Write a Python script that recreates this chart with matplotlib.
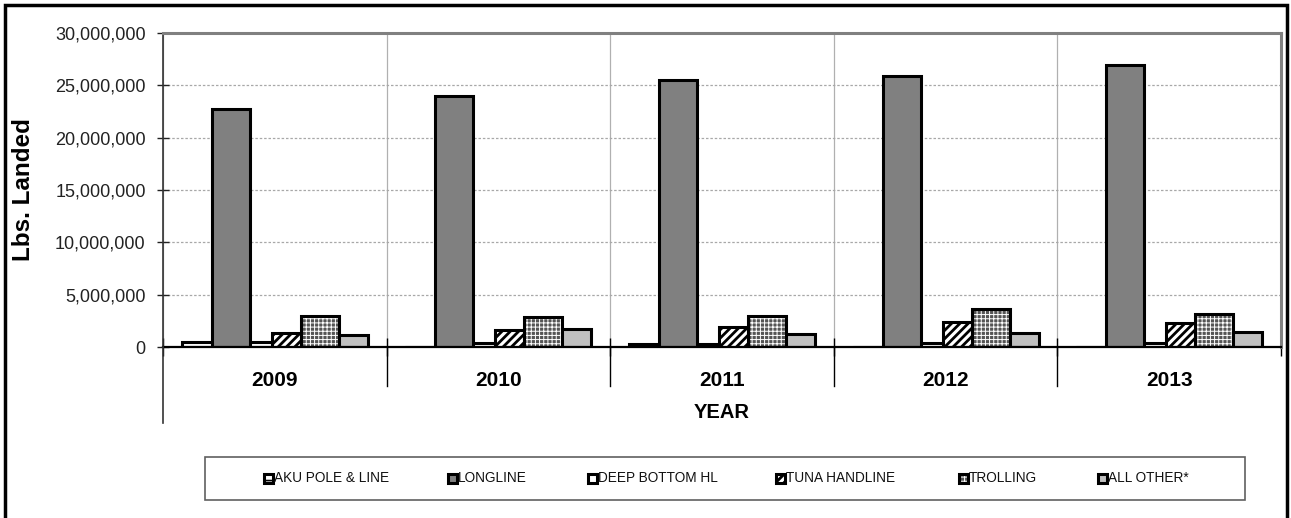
import matplotlib
matplotlib.use("Agg")
import matplotlib.pyplot as plt
from matplotlib.patches import Rectangle
from matplotlib.lines import Line2D
from matplotlib.ticker import FuncFormatter, MultipleLocator
import numpy as np

plt.rcParams['font.family'] = ['Liberation Sans', 'DejaVu Sans']

# ---------------- data ----------------
years = ['2009', '2010', '2011', '2012', '2013']
series_names = ['AKU POLE & LINE', 'LONGLINE', 'DEEP BOTTOM HL',
                'TUNA HANDLINE', 'TROLLING', 'ALL OTHER*']
aku_pole_line = [500000, 0, 300000, 0, 0]
longline = [22700000, 24000000, 25500000, 25900000, 26950000]
deep_bottom_hl = [500000, 400000, 250000, 400000, 400000]
tuna_handline = [1350000, 1650000, 1950000, 2400000, 2300000]
trolling = [3000000, 2850000, 3000000, 3650000, 3150000]
all_other = [1150000, 1700000, 1200000, 1350000, 1400000]
values = [aku_pole_line, longline, deep_bottom_hl, tuna_handline, trolling, all_other]
y_label = 'Lbs. Landed'
x_label = 'YEAR'

# ---------------- styles ----------------
W, H = 1291, 518
fig = plt.figure(figsize=(W / 100, H / 100), dpi=100)

def fx(x):
    return x / W

def fy(y):
    return 1 - y / H

# pixel geometry of plot area
L, R, T, B = 163, 1281, 33, 347
cat_px = (R - L) / len(years)
ax = fig.add_axes([fx(L), fy(B), fx(R - L), (B - T) / H])

# per-series (left, right) edges in px relative to category centre
edges_px = [(-93, -63), (-63, -25), (-33, -3), (-3, 26), (26, 64), (57, 93)]
faces = ['white', '#808080', 'white', 'white', '#555555', '#c0c0c0']
hatches = ['---', None, None, '////', '++++', None]
hatch_cols = ['black', None, None, 'black', 'white', None]
hatch_lws = [1.2, 1, 1, 2.0, 0.7, 1]
zorders = [2, 4, 3, 3, 4, 3]

x = np.arange(len(years))
for vals, (e0, e1), fc, ht, hc, hl, z in zip(values, edges_px, faces, hatches,
                                             hatch_cols, hatch_lws, zorders):
    off = (e0 + e1) / 2 / cat_px
    wid = (e1 - e0) / cat_px
    ax.bar(x + off, vals, width=wid, color=fc, edgecolor='none', linewidth=0, zorder=z)
    if ht:
        plt.rcParams['hatch.linewidth'] = hl
        ax.bar(x + off, vals, width=wid, color='none', edgecolor=hc, hatch=ht,
               linewidth=0, zorder=z)
    ax.bar(x + off, vals, width=wid, fill=False, edgecolor='black', linewidth=2.2, zorder=z)

ax.set_xlim(-0.5, len(years) - 0.5)
ax.set_ylim(0, 30000000)
ax.yaxis.set_major_locator(MultipleLocator(5000000))
ax.yaxis.set_major_formatter(FuncFormatter(lambda v, p: f'{int(v):,}'))
ax.tick_params(axis='y', direction='inout', length=9, width=1, labelsize=13, pad=8,
               colors='#222222', labelcolor='#222222')
ax.set_xticks(np.arange(len(years) + 1) - 0.5)
ax.set_xticklabels([])
ax.tick_params(axis='x', direction='inout', length=13, width=1, colors='black')

ax.grid(axis='y', color='#a8a8a8', linestyle=(0, (2, 1.5)), linewidth=0.9, zorder=0)
ax.grid(axis='x', color='#b0b0b0', linestyle='-', linewidth=0.9, zorder=0)
ax.set_axisbelow(True)

for s in ['top', 'right']:
    ax.spines[s].set_color('#808080')
    ax.spines[s].set_linewidth(2.2)
ax.spines['left'].set_color('#333333')
ax.spines['left'].set_linewidth(1.2)
ax.spines['bottom'].set_color('black')
ax.spines['bottom'].set_linewidth(1.6)
ax.spines['bottom'].set_zorder(6)

ax.set_ylabel(y_label, fontsize=17.5, fontweight='bold')
ax.yaxis.set_label_coords((35 - L) / (R - L), 0.5)

# category axis below plot
for i, yr in enumerate(years):
    cx = L + (i + 0.5) * cat_px
    fig.text(fx(cx), fy(380), yr, ha='center', va='center', fontsize=15, fontweight='bold')
for i in range(1, len(years)):
    bx = L + i * cat_px
    fig.add_artist(Line2D([fx(bx), fx(bx)], [fy(B), fy(386)], color='black', linewidth=1))
fig.add_artist(Line2D([fx(L), fx(L)], [fy(B), fy(423)], color='#333333', linewidth=1.2))
fig.text(fx((L + R) / 2), fy(412), x_label, ha='center', va='center', fontsize=14.5, fontweight='bold')

# legend
fig.add_artist(Rectangle((fx(205), fy(500)), fx(1245 - 205), (500 - 457) / H,
                         facecolor='white', edgecolor='#606060', linewidth=1.2))
marker_x = [268, 452, 592, 780, 963, 1102]
ly = 478
ms = 9
for name, mx, fc, ht, hc, hl in zip(series_names, marker_x, faces, hatches, hatch_cols, hatch_lws):
    fig.add_artist(Rectangle((fx(mx - ms / 2), fy(ly + ms / 2)), ms / W, ms / H,
                             facecolor=fc, edgecolor='none'))
    if ht:
        plt.rcParams['hatch.linewidth'] = hl
        fig.add_artist(Rectangle((fx(mx - ms / 2), fy(ly + ms / 2)), ms / W, ms / H,
                                 facecolor='none', edgecolor=hc, hatch=ht, linewidth=0))
    fig.add_artist(Rectangle((fx(mx - ms / 2), fy(ly + ms / 2)), ms / W, ms / H,
                             fill=False, edgecolor='black', linewidth=2.2))
    fig.text(fx(mx + 6), fy(ly), name, ha='left', va='center', fontsize=9.8, color='#111111')

# outer chart frame
fig.add_artist(Rectangle((fx(5), fy(560)), fx(1287 - 5), (560 - 5) / H,
                         fill=False, edgecolor='black', linewidth=2.5, clip_on=False))

fig.savefig('out.png', dpi=100)
